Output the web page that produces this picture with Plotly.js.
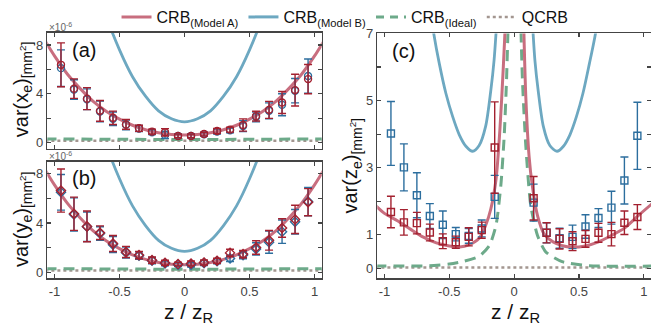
<!DOCTYPE html>
<html><head><meta charset="utf-8">
<script src="https://cdn.plot.ly/plotly-3.0.1.min.js"></script>
<style>html,body{margin:0;padding:0;background:#fff}#c{width:651px;height:332px}</style>
</head><body><div id="c"></div>
<script>
// ---- measurement positions ----
const zPts = [-0.95,-0.85,-0.75,-0.65,-0.55,-0.45,-0.35,-0.25,-0.15,-0.05,0.05,0.15,0.25,0.35,0.45,0.55,0.65,0.75,0.85,0.95];

// ---- panel (a): var(x_e), units 1e-6 mm^2 ----
const aRed     = [6.37,4.42,3.6,2.6,2.03,1.49,1.17,0.9,0.84,0.54,0.54,0.7,0.95,1.06,1.44,2.17,2.68,3.28,4.3,5.2];
const aRedErr  = [1.8,0.8,0.9,0.85,0.55,0.4,0.25,0.2,0.3,0.15,0.15,0.15,0.2,0.2,0.5,0.4,0.7,0.9,1.3,1.2];
const aBlue    = [6.1,4.35,3.55,2.55,1.95,1.45,1.15,0.85,0.63,0.55,0.55,0.68,0.9,1.0,1.35,2.1,2.6,3.1,4.25,5.45];
const aBlueErr = [1.5,0.8,0.85,0.85,0.55,0.4,0.25,0.2,0.3,0.15,0.15,0.15,0.2,0.2,0.45,0.4,0.65,0.9,1.0,1.4];

// ---- panel (b): var(y_e), units 1e-6 mm^2 ----
const bRed     = [6.64,4.76,3.73,3.22,2.34,1.66,1.4,0.99,0.78,0.67,0.72,0.8,0.94,1.58,1.48,2.02,2.6,3.6,4.3,5.7];
const bRedErr  = [1.75,1.35,1.25,0.55,0.65,0.45,0.3,0.25,0.2,0.15,0.2,0.2,0.2,0.3,0.3,0.55,0.8,0.75,1.15,1.1];
const bBlue    = [6.5,4.7,3.7,3.15,2.25,1.6,1.35,0.95,0.72,0.62,0.62,0.75,0.9,1.13,1.4,1.9,2.45,3.3,4.1,5.75];
const bBlueErr = [1.45,1.35,1.2,0.55,0.65,0.45,0.3,0.25,0.2,0.15,0.2,0.2,0.2,0.25,0.3,0.5,0.9,0.95,1.0,1.15];

// ---- panel (c): var(z_e), mm^2 ----
const cRed     = [1.68,1.37,1.35,1.07,0.81,0.78,0.94,1.14,3.6,null,null,2.09,1.06,0.88,0.81,0.88,1.06,1.02,1.36,1.53];
const cRedErr  = [0.47,0.38,0.32,0.25,0.22,0.18,0.27,0.24,1.36,0,0,0.65,0.3,0.3,0.28,0.25,0.28,0.35,0.35,0.37];
const cBlue    = [4.02,3.01,2.18,1.56,1.3,1.02,0.97,1.19,2.13,null,null,1.96,1.06,0.9,0.94,1.25,1.5,1.81,2.62,3.95];
const cBlueErr = [0.95,0.7,0.67,0.37,0.41,0.2,0.22,0.25,0.64,0,0,0.55,0.3,0.3,0.35,0.35,0.28,0.49,0.7,1.0];

// ---- theory curves, panels (a),(b) ----
const abZ      = [-1.07,-1.0,-0.9,-0.8,-0.7,-0.6,-0.5,-0.4,-0.3,-0.2,-0.1,0,0.1,0.2,0.3,0.4,0.5,0.6,0.7,0.8,0.9,1.0,1.07];
const abModelA = [8.3,7.1,5.6,4.4,3.35,2.55,1.92,1.42,1.05,0.8,0.66,0.62,0.66,0.8,1.05,1.42,1.92,2.55,3.35,4.4,5.6,7.1,8.3];
const abZB     = [-0.62,-0.6,-0.5,-0.4,-0.3,-0.2,-0.1,0,0.1,0.2,0.3,0.4,0.5,0.6,0.62];
const abModelB = [11.0,10.3,7.6,5.4,3.8,2.6,1.95,1.7,1.95,2.6,3.8,5.4,7.6,10.3,11.0];
const abZI     = [-1.07,-0.5,0,0.5,1.07];
const abIdeal  = [0.3,0.27,0.25,0.27,0.3];
const abQCRB   = [0.15,0.15,0.15,0.15,0.15];

// ---- theory curves, panel (c) ----
const cZA      = [-1.07,-1.0,-0.9,-0.8,-0.7,-0.6,-0.5,-0.42,-0.35,-0.27,-0.22,-0.18,-0.14,-0.11,-0.085,-0.065,null,
                  0.072,0.09,0.115,0.14,0.18,0.23,0.3,0.42,0.55,0.65,0.75,0.85,0.95,1.07];
const cModelA  = [1.88,1.64,1.42,1.17,0.93,0.76,0.67,0.64,0.7,0.9,1.28,1.77,2.65,4.13,5.9,7.5,null,
                  7.5,5.1,3.34,2.46,1.57,1.03,0.79,0.64,0.67,0.79,0.98,1.2,1.55,1.95];
const cZB      = [-0.635,-0.62,-0.577,-0.526,-0.474,-0.423,-0.372,-0.32,-0.27,-0.22,-0.18,-0.155,-0.14,-0.134,null,
                  0.14,0.146,0.16,0.185,0.225,0.275,0.33,0.38,0.43,0.48,0.53,0.58,0.627,0.64];
const cModelB  = [7.4,7.0,6.1,5.21,4.52,3.98,3.64,3.49,3.66,4.23,5.3,6.2,7.0,7.4,null,
                  7.4,7.0,6.2,5.3,4.23,3.66,3.49,3.64,3.98,4.52,5.21,6.1,7.0,7.4];
const cZI      = [-1.07,-0.654,-0.5,-0.4,-0.27,-0.19,-0.14,-0.103,-0.077,-0.059,-0.044,null,
                  0.049,0.064,0.09,0.128,0.18,0.244,0.37,0.577,1.07];
const cIdeal   = [0.07,0.08,0.13,0.2,0.36,0.69,1.28,2.46,3.93,5.6,7.6,null,
                  7.6,5.6,3.64,1.87,0.98,0.49,0.2,0.08,0.07];
const cZQ      = [-1.07,1.07];
const cQCRB    = [0.03,0.03];

// ---- tick values ----
const xTicks   = [-1,-0.5,0,0.5,1];
const xLabels  = ['-1','-0.5','0','0.5','1'];
const abYTicks = [0,4,8];
const abYMinor = [2,6];
const cYTicks  = [0,1,3,5,7];
const cYMinor  = [2,4,6];

const colA = '#C86E7F', colB = '#6DA8C1', colI = '#6DAA8A', colQ = '#A39690';
const datR = '#A3202F', datB = '#2C6E9E';

function curves(xa, ya, zA, vA, zB, vB, zI, vI, zQ, vQ) {
  return [
    {x: zQ, y: vQ, xaxis: xa, yaxis: ya, mode: 'lines', showlegend: false,
     line: {color: colQ, width: 2.5, dash: 'dot'}},
    {x: zI, y: vI, xaxis: xa, yaxis: ya, mode: 'lines', showlegend: false,
     line: {color: colI, width: 3, dash: '11px,7px', shape: 'spline', smoothing: 0.6}, connectgaps: false},
    {x: zB, y: vB, xaxis: xa, yaxis: ya, mode: 'lines', showlegend: false,
     line: {color: colB, width: 2.8, shape: 'spline', smoothing: 0.8}, connectgaps: false},
    {x: zA, y: vA, xaxis: xa, yaxis: ya, mode: 'lines', showlegend: false,
     line: {color: colA, width: 3, shape: 'spline', smoothing: 0.8}, connectgaps: false}
  ];
}
function dataTr(xa, ya, y, err, col, sym) {
  return {x: zPts, y: y, xaxis: xa, yaxis: ya, mode: 'markers', showlegend: false,
    marker: {symbol: sym, size: 7, color: col, line: {color: col, width: 1.4}},
    error_y: {type: 'data', array: err, visible: true, color: col, thickness: 1.4, width: 4}};
}

let traces = [];
traces = traces.concat(curves('x','y', abZ, abModelA, abZB, abModelB, abZI, abIdeal, abZI, abQCRB));
traces.push(dataTr('x','y', aBlue, aBlueErr, datB, 'circle-open'));
traces.push(dataTr('x','y', aRed, aRedErr, datR, 'circle-open'));
traces = traces.concat(curves('x2','y2', abZ, abModelA, abZB, abModelB, abZI, abIdeal, abZI, abQCRB));
traces.push(dataTr('x2','y2', bBlue, bBlueErr, datB, 'diamond-open'));
traces.push(dataTr('x2','y2', bRed, bRedErr, datR, 'diamond-open'));
traces = traces.concat(curves('x3','y3', cZA, cModelA, cZB, cModelB, cZI, cIdeal, cZQ, cQCRB));
traces.push(dataTr('x3','y3', cBlue, cBlueErr, datB, 'square-open'));
traces.push(dataTr('x3','y3', cRed, cRedErr, datR, 'square-open'));

// legend entries
const legNames = ['CRB<sub>(Model A)</sub>','CRB<sub>(Model B)</sub>','CRB<sub>(Ideal)</sub>','QCRB'];
const legLines = [{color: colA, width: 3}, {color: colB, width: 3}, {color: colI, width: 3, dash: '8px,6px'}, {color: colQ, width: 2.5, dash: 'dot'}];
legNames.forEach((n, i) => traces.push({x: [null], y: [null], xaxis: 'x', yaxis: 'y', mode: 'lines', name: n, line: legLines[i], showlegend: true}));

const axC = '#444';
const tickF = {family: 'Liberation Sans, Arial, sans-serif', size: 13, color: '#444'};
function xax(dom, anchor, labels) {
  return {domain: dom, anchor: anchor, range: [-1.055, 1.055], tickmode: 'array', tickvals: xTicks,
    ticktext: xLabels, showticklabels: labels, ticks: 'inside', ticklen: 4, tickcolor: axC,
    tickwidth: 1.2, showline: true, linecolor: axC, linewidth: 1.6, mirror: 'ticks', showgrid: false,
    zeroline: false, tickfont: tickF};
}
function yax(dom, anchor, range, vals, minor) {
  return {domain: dom, anchor: anchor, range: range, tickmode: 'array', tickvals: vals,
    minor: {tickmode: 'array', tickvals: minor, ticks: 'inside', ticklen: 4, tickcolor: axC, tickwidth: 1.2, showgrid: false},
    ticks: 'inside', ticklen: 4,
    tickcolor: axC, tickwidth: 1.2, showline: true, linecolor: axC, linewidth: 1.6, mirror: 'ticks',
    showgrid: false, zeroline: false, tickfont: tickF};
}
const bigF = {family: 'Liberation Sans, Arial, sans-serif', size: 20, color: '#111'};
const layout = {
  width: 651, height: 332, margin: {l: 0, r: 0, t: 0, b: 0},
  paper_bgcolor: '#fff', plot_bgcolor: '#fff', showlegend: true,
  legend: {orientation: 'h', x: 0.53, xanchor: 'center', y: 1.01, yanchor: 'top', bgcolor: 'rgba(0,0,0,0)',
    font: {family: 'Liberation Sans, Arial, sans-serif', size: 16, color: '#111'}, itemwidth: 30, tracegroupgap: 0},
  xaxis: xax([0.0727, 0.4942], 'y', false),
  yaxis: yax([0.5572, 0.9096], 'x', [-0.5, 9.0], abYTicks, abYMinor),
  xaxis2: xax([0.0727, 0.4942], 'y2', true),
  yaxis2: yax([0.1627, 0.5181], 'x2', [-0.5, 9.0], abYTicks, abYMinor),
  xaxis3: xax([0.5796, 1.0], 'y3', true),
  yaxis3: yax([0.1627, 0.9075], 'x3', [-0.3, 7], cYTicks, cYMinor),
  annotations: [
    {xref: 'paper', yref: 'paper', x: 47/651, y: 1-24/332, xanchor: 'left', yanchor: 'middle', showarrow: false,
     text: '×10<sup>-6</sup>', font: {family: 'Liberation Sans, Arial', size: 10, color: '#666'}},
    {xref: 'paper', yref: 'paper', x: 47/651, y: 1-154/332, xanchor: 'left', yanchor: 'middle', showarrow: false,
     text: '×10<sup>-6</sup>', font: {family: 'Liberation Sans, Arial', size: 10, color: '#666'}},
    {xref: 'paper', yref: 'paper', x: 70/651, y: 1-47/332, xanchor: 'left', yanchor: 'middle', showarrow: false, text: '(a)', font: bigF},
    {xref: 'paper', yref: 'paper', x: 70/651, y: 1-177/332, xanchor: 'left', yanchor: 'middle', showarrow: false, text: '(b)', font: bigF},
    {xref: 'paper', yref: 'paper', x: 390/651, y: 1-48/332, xanchor: 'left', yanchor: 'middle', showarrow: false, text: '(c)', font: bigF},
    {xref: 'paper', yref: 'paper', x: 188/651, y: 1-313/332, xanchor: 'center', yanchor: 'middle', showarrow: false,
     text: 'z / z<sub>R</sub>', font: {family: 'Liberation Sans, Arial, sans-serif', size: 21, color: '#111'}},
    {xref: 'paper', yref: 'paper', x: 515/651, y: 1-313/332, xanchor: 'center', yanchor: 'middle', showarrow: false,
     text: 'z / z<sub>R</sub>', font: {family: 'Liberation Sans, Arial, sans-serif', size: 21, color: '#111'}},
    {xref: 'paper', yref: 'paper', x: 22/651, y: 1-88/332, xanchor: 'center', yanchor: 'middle', textangle: -90, showarrow: false,
     text: 'var(x<sub>e</sub>)<sub>[mm<sup>2</sup>]</sub>', font: bigF},
    {xref: 'paper', yref: 'paper', x: 22/651, y: 1-219/332, xanchor: 'center', yanchor: 'middle', textangle: -90, showarrow: false,
     text: 'var(y<sub>e</sub>)<sub>[mm<sup>2</sup>]</sub>', font: bigF},
    {xref: 'paper', yref: 'paper', x: 352/651, y: 1-165/332, xanchor: 'center', yanchor: 'middle', textangle: -90, showarrow: false,
     text: 'var(z<sub>e</sub>)<sub>[mm<sup>2</sup>]</sub>', font: bigF}
  ]
};
Plotly.newPlot('c', traces, layout, {displayModeBar: false, staticPlot: true});
</script></body></html>
